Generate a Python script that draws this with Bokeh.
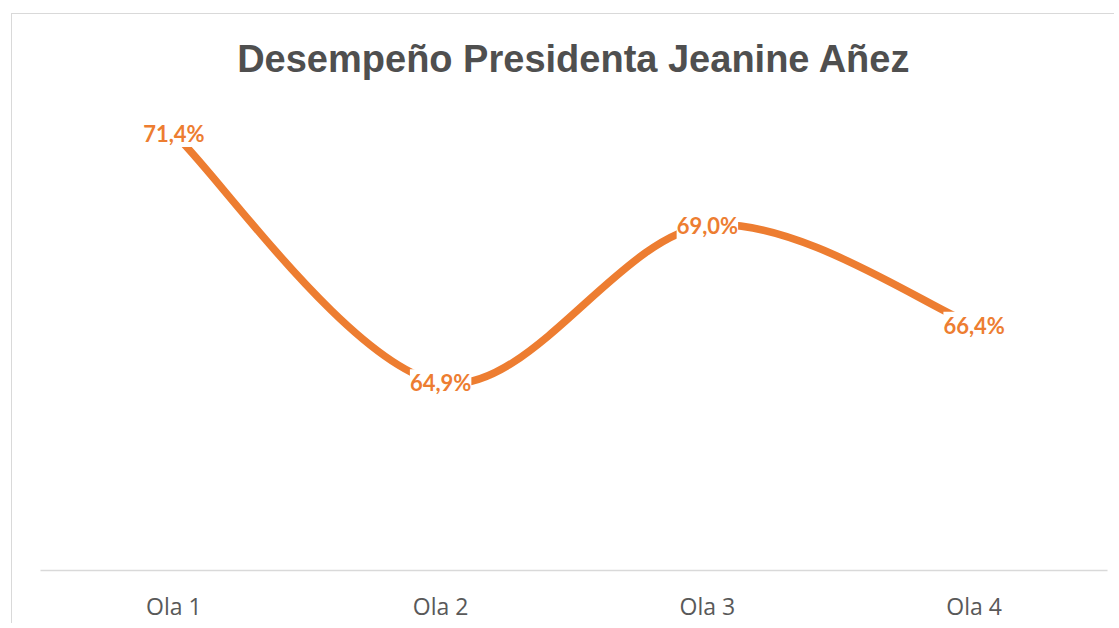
from bokeh.plotting import figure
from bokeh.models import Range1d, FixedTicker, ColumnDataSource, LabelSet
from bokeh.core.properties import value
from bokeh.embed import file_html
from bokeh.resources import INLINE

categories = ["Ola 1", "Ola 2", "Ola 3", "Ola 4"]
values = [71.4, 64.9, 69.0, 66.4]
labels = ["71,4%", "64,9%", "69,0%", "66,4%"]

ORANGE = "#ED7D31"

xs = list(range(len(categories)))

p = figure(width=1103, height=610, output_backend="svg", toolbar_location=None,
           x_range=Range1d(-0.5, len(categories) - 0.5), y_range=Range1d(60, 72.26),
           min_border_left=28, min_border_right=8, min_border_top=86, min_border_bottom=49)
p.margin = (13, 0, 0, 11)
p.styles = {"border-left": "1px solid #D9D9D9", "border-top": "1px solid #D9D9D9"}
p.outline_line_color = None
p.grid.visible = False
p.yaxis.visible = False
p.background_fill_color = "white"
p.border_fill_color = "white"

p.title.text = "Desempeño Presidenta Jeanine Añez"
p.title.align = "center"
p.title.text_font = "Liberation Sans"
p.title.text_font_style = "bold"
p.title.text_font_size = "38px"
p.title.text_color = "#4F4F4F"
p.title.standoff = 42

ax = p.xaxis[0]
ax.ticker = FixedTicker(ticks=xs)
ax.major_label_overrides = {i: c for i, c in zip(xs, categories)}
ax.axis_line_color = "#D9D9D9"
ax.axis_line_width = 1.5
ax.major_tick_line_color = None
ax.minor_tick_line_color = None
ax.major_label_text_font = "Open Sans"
ax.major_label_text_font_size = "23px"
ax.major_label_text_color = "#595959"
ax.major_label_standoff = 13

# smooth curve (Catmull-Rom style bezier segments, Excel-like smoothing)
n = len(values)
px = xs[:]
py = values[:]
x0, y0, x1, y1, cx0, cy0, cx1, cy1 = [], [], [], [], [], [], [], []
for i in range(n - 1):
    pm = i - 1 if i > 0 else i
    pp = i + 2 if i + 2 < n else i + 1
    x0.append(px[i]); y0.append(py[i])
    x1.append(px[i + 1]); y1.append(py[i + 1])
    cx0.append(px[i] + (px[i + 1] - px[pm]) / 6)
    cy0.append(py[i] + (py[i + 1] - py[pm]) / 6)
    cx1.append(px[i + 1] - (px[pp] - px[i]) / 6)
    cy1.append(py[i + 1] - (py[pp] - py[i]) / 6)
p.bezier(x0=x0, y0=y0, x1=x1, y1=y1, cx0=cx0, cy0=cy0, cx1=cx1, cy1=cy1,
         line_color=ORANGE, line_width=7.5, line_cap="round")

src = ColumnDataSource(dict(x=xs, y=values, t=labels))
ls = LabelSet(x="x", y="y", text="t", source=src, text_align="center", text_baseline="middle",
              text_font=value("Lato"), text_font_style="bold", text_font_size="22px",
              text_color=ORANGE, background_fill_color="white")
p.add_layout(ls)

open("out.html", "w").write(file_html(p, INLINE))
